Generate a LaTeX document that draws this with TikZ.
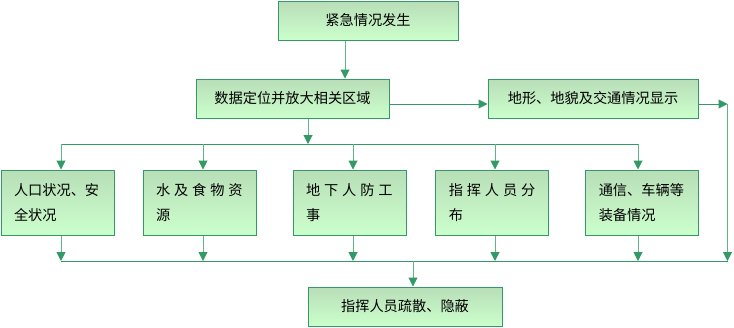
\documentclass[tikz,border=0pt]{standalone}
\usepackage{fontspec}
\setmainfont{Noto Sans CJK SC}
\usetikzlibrary{arrows.meta}
\definecolor{dkg}{HTML}{339966}
\definecolor{stem}{HTML}{5FB585}
\definecolor{topg}{HTML}{B8DEB8}
\definecolor{botg}{HTML}{CCFFCC}
\newcommand\gp{\hspace{3.9pt}}
\begin{document}
\begin{tikzpicture}[x=1pt,y=-1pt,
  boxst/.style={draw=dkg,line width=1pt,top color=topg,bottom color=botg,inner sep=0pt,
    font=\fontsize{14.2}{25}\selectfont},
  wide/.style={boxst,minimum height=39pt},
  rowbox/.style={boxst,minimum height=65pt,inner xsep=13pt,text width=87pt,align=left},
  arr/.style={draw=stem,line width=1pt,-{Triangle[width=9pt,length=9pt,color=dkg]}},
  harr/.style={draw=dkg,line width=1pt,-{Triangle[width=9pt,length=9pt,color=dkg]}},
  bus/.style={draw=dkg,line width=1pt}]
\useasboundingbox (0,0) rectangle (734,327);
% boxes
\node[wide,minimum width=180pt] (top) at (368,20.5) {紧急情况发生};
\node[wide,minimum width=193pt] (loc) at (292.5,98.5) {数据定位并放大相关区域};
\node[wide,minimum width=210pt] (ter) at (593,98.5) {地形、地貌及交通情况显示};
\node[rowbox] (a) at (57.5,202.5) {人口状况、安\\全状况};
\node[rowbox] (b) at (199.5,202.5) {水\gp 及\gp 食\gp 物\gp 资\\源};
\node[rowbox] (c) at (349.5,202.5) {地\gp 下\gp 人\gp 防\gp 工\\事};
\node[rowbox] (d) at (492.25,202.5) {指\gp 挥\gp 人\gp 员\gp 分\\布};
\node[rowbox] (e) at (642.25,202.5) {通信、车辆等\\装备情况};
\node[wide,minimum width=194pt] (fin) at (405,306.5) {指挥人员疏散、隐蔽};
% junction coordinates
\coordinate (x1) at (345,0);
\coordinate (x2) at (308,0);
\coordinate (yh) at (0,104);
\coordinate (rt) at (727.5,104);
\coordinate (rb) at (727.5,261);
\coordinate (bl) at (61,144);
\coordinate (br) at (638,144);
\coordinate (cl) at (61,261);
\coordinate (xa) at (61,0);
\coordinate (xb) at (203,0);
\coordinate (xc) at (353,0);
\coordinate (xd) at (495,0);
\coordinate (xe) at (638,0);
\coordinate (xf) at (413,0);
% connectors
\draw[arr] (top.south -| x1) -- (loc.north -| x1);
\draw[harr] (loc.east |- yh) -- (ter.west |- yh);
\draw[harr] (ter.east |- yh) -- (rt);
\draw[arr] (rt) -- (rb);
\draw[arr] (loc.south -| x2) -- (bl -| x2);
\draw[bus] (bl) -- (br);
\foreach \s/\t in {xa/a,xb/b,xc/c,xd/d,xe/e}{
  \draw[arr] (bl -| \s) -- (\t.north -| \s);
  \draw[arr] (\t.south -| \s) -- (cl -| \s);
}
\draw[bus] (cl) -- (rb);
\draw[arr] (cl -| xf) -- (fin.north -| xf);
\end{tikzpicture}
\end{document}
